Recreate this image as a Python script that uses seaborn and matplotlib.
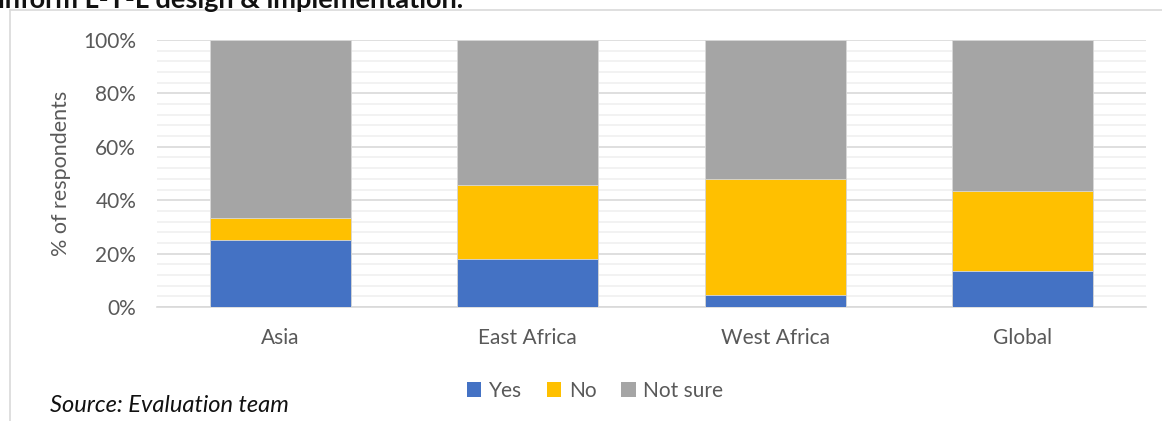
import matplotlib
matplotlib.use("Agg")
import matplotlib.pyplot as plt
from matplotlib.lines import Line2D
from matplotlib.patches import Patch
from matplotlib.ticker import MultipleLocator, FuncFormatter
import seaborn as sns
import pandas as pd
import numpy as np

regions = ["Asia", "East Africa", "West Africa", "Global"]
yes = [25.0, 18.0, 4.5, 13.6]
no = [8.3, 27.6, 43.3, 29.8]
not_sure = [66.7, 54.4, 52.2, 56.6]
series_names = ["Yes", "No", "Not sure"]
colors = ["#4472C4", "#FFC000", "#A5A5A5"]

sns.set_theme(style="white")
plt.rcParams['font.family'] = ['Lato', 'DejaVu Sans']

df = pd.DataFrame({"region": regions, "Yes": yes, "No": no, "Not sure": not_sure})
df["c_yes"] = df["Yes"]
df["c_no"] = df["Yes"] + df["No"]
df["c_ns"] = df["Yes"] + df["No"] + df["Not sure"]

fig = plt.figure(figsize=(11.62, 4.21), dpi=100)
W, H = 1162, 421
ax = fig.add_axes([157 / W, 1 - 307 / H, (1146 - 157) / W, (307 - 40) / H])

grey = "#595959"
for col, c in zip(["c_ns", "c_no", "c_yes"], [colors[2], colors[1], colors[0]]):
    sns.barplot(data=df, x="region", y=col, color=c, width=0.57, ax=ax,
                saturation=1, edgecolor="#d9d9d9", linewidth=0.6, zorder=3)

ax.set_ylim(0, 100)
ax.set_xlim(-0.5, 3.5)
ax.yaxis.set_major_locator(MultipleLocator(20))
ax.yaxis.set_minor_locator(MultipleLocator(4))
ax.yaxis.set_major_formatter(FuncFormatter(lambda v, p: f"{int(round(v))}%"))
ax.grid(axis="y", which="major", color="#d9d9d9", linewidth=1.2, zorder=0)
ax.grid(axis="y", which="minor", color="#f0f0f0", linewidth=1.2, zorder=0)
ax.set_axisbelow(True)
for s in ["top", "right", "left"]:
    ax.spines[s].set_visible(False)
ax.spines["bottom"].set_color("#d9d9d9")
ax.spines["bottom"].set_linewidth(1.2)
ax.tick_params(axis="both", which="both", length=0, labelsize=15, labelcolor=grey)
ax.tick_params(axis="y", pad=15)
ax.tick_params(axis="x", pad=15)
ax.set_xlabel("")
ax.set_ylabel("% of respondents", fontsize=15.5, color=grey, labelpad=9)

handles = [Patch(facecolor=c, edgecolor="none") for c in colors]
fig.legend(handles, series_names, loc="center", bbox_to_anchor=(595 / W, 1 - 391 / H),
           ncol=3, frameon=False, fontsize=15, labelcolor=grey, handlelength=0.7,
           handleheight=0.7, handletextpad=0.35, columnspacing=1.2)

fig.text(50 / W, 1 - 405 / H, "Source: Evaluation team", fontsize=17, style="italic",
         color="#111111", va="center", ha="left")

fig.text(-2 / W, 1 - 8 / H, "inform L-T-L design & implementation.", fontsize=19.5,
         fontweight="bold", color="#111111", va="baseline", ha="left")

fig.add_artist(Line2D([10 / W, 1], [1 - 10 / H, 1 - 10 / H], transform=fig.transFigure,
                      color="#d9d9d9", linewidth=1.2))
fig.add_artist(Line2D([10 / W, 10 / W], [0, 1 - 10 / H], transform=fig.transFigure,
                      color="#d9d9d9", linewidth=1.2))

fig.savefig("out.png", dpi=100)
